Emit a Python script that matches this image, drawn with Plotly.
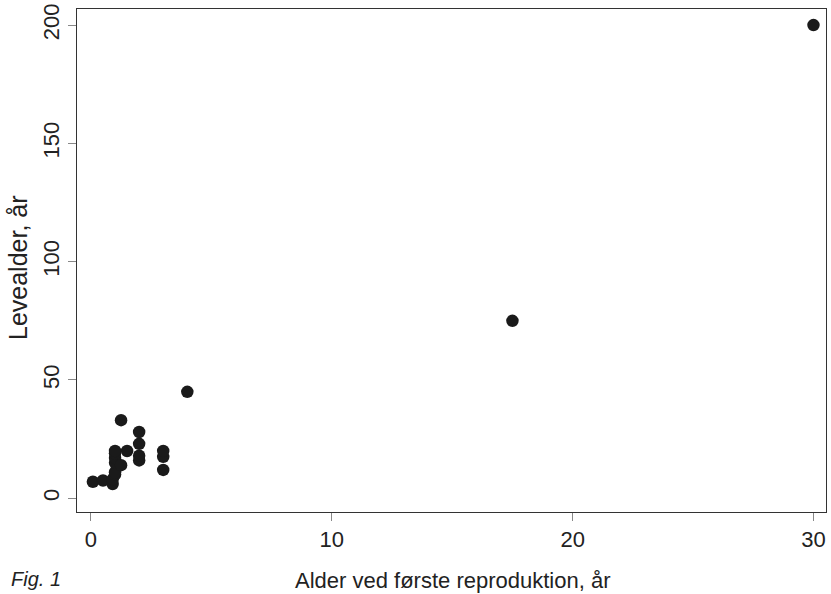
import plotly.graph_objects as go

# Alder ved første reproduktion (år) og levealder (år)
alder_reproduktion = [0.08, 0.5, 0.9, 0.9, 1.0, 1.0, 1.0, 1.0, 1.0, 1.0, 1.25, 1.25, 1.5,
                      2.0, 2.0, 2.0, 2.0, 3.0, 3.0, 3.0, 4.0, 17.5, 30.0]
levealder = [7, 7.5, 6, 8, 10, 11, 15, 17, 19, 20, 14, 33, 20,
             16, 18, 23, 28, 12, 17.5, 20, 45, 75, 200]

x_ticks = [0, 10, 20, 30]
y_ticks = [0, 50, 100, 150, 200]

narrow = "Liberation Sans Narrow, Arial Narrow, Liberation Sans, Arial, sans-serif"
regular = "Liberation Sans, Arial, sans-serif"
ink = "#222222"

fig = go.Figure()
fig.add_trace(go.Scatter(
    x=alder_reproduktion, y=levealder, mode="markers",
    marker=dict(size=12.5, color="#1a1a1a", line=dict(width=0)),
    showlegend=False, hoverinfo="x+y",
))

axis_common = dict(
    showline=True, linecolor="#333333", linewidth=1, mirror=True,
    ticks="outside", ticklen=8, tickcolor="#888888", tickwidth=1,
    showgrid=False, zeroline=False, automargin=False,
    tickfont=dict(family=narrow, size=22, color=ink),
)

fig.update_layout(
    width=831, height=594,
    margin=dict(l=77, r=5, t=9, b=82),
    paper_bgcolor="white", plot_bgcolor="white",
    font=dict(family=regular, color=ink),
    xaxis=dict(axis_common, range=[-0.58, 30.52], tickvals=x_ticks),
    yaxis=dict(axis_common, range=[-5.8, 206.8], tickvals=y_ticks, tickangle=-90),
    annotations=[
        dict(text="Alder ved første reproduktion, år", xref="paper", yref="paper",
             x=(452 - 77) / 749, y=-(580 - 512) / 503, xanchor="center", yanchor="middle",
             showarrow=False, font=dict(family=regular, size=22, color=ink)),
        dict(text="Levealder, år", xref="paper", yref="paper", textangle=-90,
             x=-(77 - 18) / 749, y=(512 - 268) / 503, xanchor="center", yanchor="middle",
             showarrow=False, font=dict(family=regular, size=25, color=ink)),
        dict(text="<i>Fig. 1</i>", xref="paper", yref="paper",
             x=-(77 - 9) / 749, y=-(579 - 512) / 503, xanchor="left", yanchor="middle",
             showarrow=False, font=dict(family=narrow, size=20, color=ink)),
    ],
)

fig.write_html("out.html", config={"displayModeBar": False},
               post_script="document.body.style.margin='0px';document.body.style.overflow='hidden';")
